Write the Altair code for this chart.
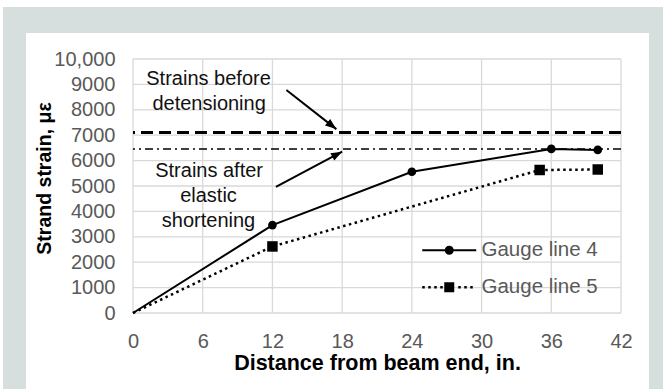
import math
import altair as alt
import pandas as pd

# ---------------- data ----------------
x_ticks = [0, 6, 12, 18, 24, 30, 36, 42]
y_ticks = [0, 1000, 2000, 3000, 4000, 5000, 6000, 7000, 8000, 9000, 10000]

series_names = ["Gauge line 4", "Gauge line 5"]
g4_x = [0, 12, 24, 36, 40]
g4_y = [0, 3460, 5560, 6460, 6420]
g5_x = [0, 12, 35, 40]
g5_y = [0, 2620, 5630, 5650]

strain_before = 7110
strain_after = 6460

note_text = ["Strains before", "detensioning", "Strains after", "elastic", "shortening"]
note_x = [6.5, 6.55, 6.55, 6.5, 6.5]
note_y = [9210, 8230, 5610, 4610, 3620]

arrow_x = [13.2, 12.3]
arrow_y = [8780, 4970]
arrow_x2 = [17.5, 18.0]
arrow_y2 = [7240, 6350]

# ---------------- layout ----------------
W, H = 488, 254
PAD_L, PAD_T = 133, 59
TOTAL_W, TOTAL_H = 663, 389
FONT = "Liberation Sans"
TICK_GREY = "#595959"
GRID = "#d9d9d9"
FRAME = "#d6dfdd"

xs = alt.Scale(domain=[0, 42], nice=False, zero=False)
ys = alt.Scale(domain=[0, 10000], nice=False, zero=False)

ax_x = alt.Axis(
    values=x_ticks, grid=False, domain=False, ticks=False, tickSize=0, zindex=2,
    labelFont=FONT, labelFontSize=20, labelColor=TICK_GREY, labelPadding=28,
    labelBaseline="middle", labelFlush=False,
    title="Distance from beam end, in.", titleFont=FONT, titleFontSize=21.5,
    titleFontWeight="bold", titleColor="black", titleY=50, titleBaseline="middle")
ax_y = alt.Axis(
    values=y_ticks, grid=False, domain=False, ticks=False, tickSize=0, zindex=2,
    labelFont=FONT, labelFontSize=20, labelColor=TICK_GREY, labelPadding=18,
    labelFlush=False,
    labelExpr="datum.value >= 10000 ? format(datum.value, ',') : format(datum.value, 'd')",
    title="Strand strain, με", titleFont=FONT, titleFontSize=19.5,
    titleFontWeight="bold", titleColor="black", titleAngle=270,
    titleX=44 - PAD_L, titleY=178 - PAD_T, titleBaseline="middle", titleAlign="center")


def X(field):
    return alt.X(field, scale=xs, axis=ax_x)


def Y(field):
    return alt.Y(field, scale=ys, axis=ax_y)


one = pd.DataFrame({"k": [0]})

frame = alt.Chart(one).mark_rect(color=FRAME).encode(
    x=alt.value(3 - PAD_L), x2=alt.value(TOTAL_W - PAD_L),
    y=alt.value(7 - PAD_T), y2=alt.value(TOTAL_H - PAD_T + 5))
panel = alt.Chart(one).mark_rect(color="white").encode(
    x=alt.value(26 - PAD_L), x2=alt.value(649 - PAD_L),
    y=alt.value(33 - PAD_T), y2=alt.value(TOTAL_H - PAD_T + 5))

vgrid = alt.Chart(pd.DataFrame({"x": x_ticks})).mark_rule(color=GRID, strokeWidth=1.3).encode(
    x=X("x:Q"))
hgrid = alt.Chart(pd.DataFrame({"y": y_ticks})).mark_rule(color=GRID, strokeWidth=1.3).encode(
    y=Y("y:Q"))

before = alt.Chart(pd.DataFrame({"y": [strain_before]})).mark_rule(
    color="black", strokeWidth=3, strokeDash=[12, 6]).encode(y=Y("y:Q"))
after = alt.Chart(pd.DataFrame({"y": [strain_after]})).mark_rule(
    color="black", strokeWidth=1.5, strokeDash=[8, 4, 2, 4]).encode(y=Y("y:Q"))

notes = alt.Chart(pd.DataFrame({"t": note_text, "x": note_x, "y": note_y})).mark_text(
    font=FONT, fontSize=20, color="#111111", align="center", baseline="middle").encode(
    x=X("x:Q"), y=Y("y:Q"), text="t:N")

# arrow heads: angle derived from the arrow direction in screen space
ang = []
for a, b, c, d in zip(arrow_x, arrow_y, arrow_x2, arrow_y2):
    dx = (c - a) * W / 42.0
    dy = -(d - b) * H / 10000.0
    ang.append(math.degrees(math.atan2(dy, dx)) % 360)
arrows_df = pd.DataFrame({"x": arrow_x, "y": arrow_y, "x2": arrow_x2, "y2": arrow_y2, "ang": ang})

arrow_lines = alt.Chart(arrows_df).mark_rule(color="black", strokeWidth=2).encode(
    x=X("x:Q"), y=Y("y:Q"), x2="x2:Q", y2="y2:Q")
arrow_heads = alt.Chart(arrows_df).mark_point(
    shape="M0,0L-3.7,-1.4L-3.7,1.4Z", filled=True, size=36, color="black", opacity=1).encode(
    x=X("x2:Q"), y=Y("y2:Q"), angle=alt.Angle("ang:Q", scale=None))

df4 = pd.DataFrame({"x": g4_x, "y": g4_y})
df5 = pd.DataFrame({"x": g5_x, "y": g5_y})

line4 = alt.Chart(df4).mark_line(color="black", strokeWidth=2).encode(x=X("x:Q"), y=Y("y:Q"))
line5 = alt.Chart(df5).mark_line(color="black", strokeWidth=2.5, strokeDash=[2.5, 3.5]).encode(
    x=X("x:Q"), y=Y("y:Q"))
pts4 = alt.Chart(df4).transform_filter("datum.x > 0").mark_point(
    shape="circle", filled=True, size=75, color="black", opacity=1).encode(x=X("x:Q"), y=Y("y:Q"))
pts5 = alt.Chart(df5).transform_filter("datum.x > 0").mark_point(
    shape="square", filled=True, size=110, color="black", opacity=1).encode(x=X("x:Q"), y=Y("y:Q"))

# legend symbols: filled outlines only (unit = 10 px at symbolSize 400)
def bar(a, b, h=0.1):
    return f"M{a},{-h}L{b},{-h}L{b},{h}L{a},{h}Z"


sym4 = (bar(-2.7, -0.4) + bar(0.4, 2.7) +
        "M-0.45,0A0.45,0.45 0 1,1 0.45,0A0.45,0.45 0 1,1 -0.45,0Z")
dots = ""
p = -2.7
while p < 2.7:
    if abs(p + 0.125) > 0.55:
        dots += bar(round(p, 3), round(p + 0.25, 3), 0.125)
    p += 0.6
sym5 = dots + "M-0.5,-0.5L0.5,-0.5L0.5,0.5L-0.5,0.5Z"

leg = alt.Legend(title=None, orient="none", legendX=306, legendY=181, padding=0, offset=0,
                 symbolSize=400, symbolStrokeWidth=0, symbolFillColor="black",
                 labelOffset=22, rowPadding=16,
                 labelFont=FONT, labelFontSize=20.5, labelColor=TICK_GREY, labelLimit=0)
legend_layer = alt.Chart(pd.DataFrame({"series": series_names, "x": [-50, -50], "y": [0, 0]})).mark_point(
    clip=True, filled=True, color="black", opacity=1).encode(
    x=X("x:Q"), y=Y("y:Q"),
    shape=alt.Shape("series:N", scale=alt.Scale(domain=series_names, range=[sym4, sym5]), legend=leg))

chart = alt.layer(
    frame, panel, vgrid, hgrid, before, after, arrow_lines, arrow_heads, notes,
    line4, line5, pts4, pts5, legend_layer
).properties(
    width=W, height=H,
    padding={"left": PAD_L, "top": PAD_T, "right": TOTAL_W - PAD_L - W, "bottom": TOTAL_H - PAD_T - H},
    autosize=alt.AutoSizeParams(type="none"),
    background="white",
).configure_view(stroke=None)

chart.save("out.html", embed_options={"renderer": "svg", "actions": False})
